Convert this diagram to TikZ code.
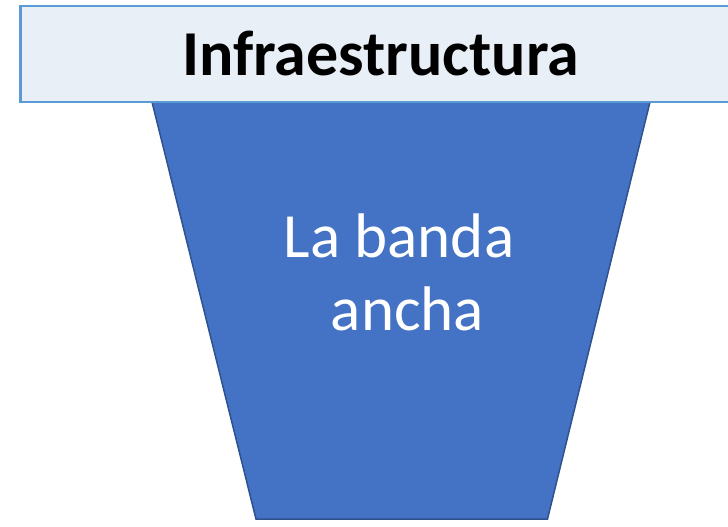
\documentclass[tikz,border=0pt]{standalone}
\usepackage{fontspec}
\setmainfont{Carlito}
\definecolor{barfill}{HTML}{E9EFF7}
\definecolor{barline}{HTML}{5B9BD5}
\definecolor{funfill}{HTML}{4472C4}
\definecolor{funline}{HTML}{2F528F}
\tikzset{
  bartext/.style={font=\fontsize{64}{70}\selectfont\bfseries, text=black, inner sep=0pt, anchor=base},
  funtext/.style={font=\fontsize{63}{70}\selectfont, text=white, inner sep=0pt, anchor=base},
}
\begin{document}
\begin{tikzpicture}[x=1pt,y=-1pt]
\useasboundingbox (0,0) rectangle (728,527);
% funnel
\draw[fill=funfill, draw=funline, line width=1.5pt, line join=miter]
  (152,102) -- (650,102) -- (547.5,519) -- (256,519) -- cycle;
% top bar
\draw[fill=barfill, draw=barline, line width=2.2pt] (20.5,6) rectangle (745,102);
\node[bartext] (title) at (380.5,75) {Infraestructura};
\node[funtext] (line1) at (399,257) {La banda};
\node[funtext] (line2) at (407.5,330) {ancha};
\end{tikzpicture}
\end{document}
